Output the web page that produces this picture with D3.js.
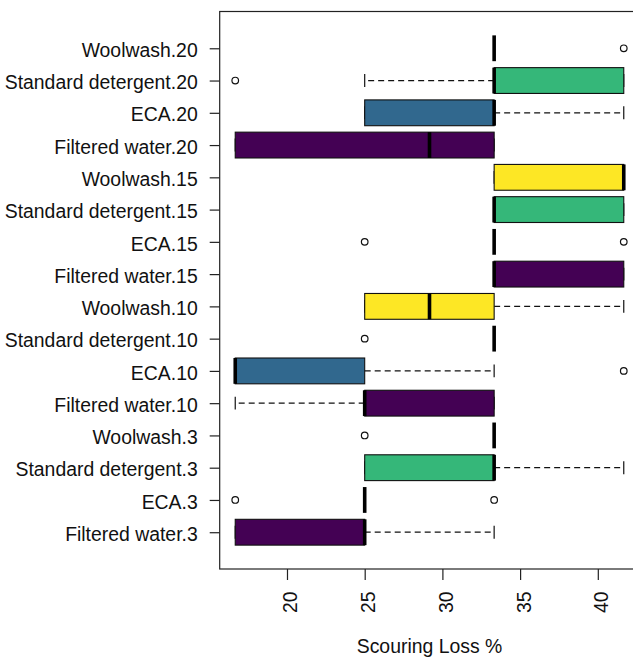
<!DOCTYPE html>
<html>
<head>
<meta charset="utf-8">
<script src="https://cdn.jsdelivr.net/npm/d3@7"></script>
<style>
  html, body { margin: 0; padding: 0; background: #fff; }
  svg { display: block; font-family: "Liberation Sans", Arial, Helvetica, sans-serif; }
</style>
</head>
<body>
<svg id="chart" width="633" height="658"></svg>
<script>
// Groups, bottom to top
const groups = [
  "Filtered water.3", "ECA.3", "Standard detergent.3", "Woolwash.3",
  "Filtered water.10", "ECA.10", "Standard detergent.10", "Woolwash.10",
  "Filtered water.15", "ECA.15", "Standard detergent.15", "Woolwash.15",
  "Filtered water.20", "ECA.20", "Standard detergent.20", "Woolwash.20"
];
const treatments = ["Filtered water", "ECA", "Standard detergent", "Woolwash"];
const treatmentColors = ["#440154", "#31688E", "#35B779", "#FDE725"];

// Five-number summaries (Scouring Loss %)
const whiskerLow  = [16.67, 25,    25,    33.33, 16.67, 16.67, 33.33, 25,    33.33, 33.33, 33.33, 33.33, 16.67, 25,    25,    33.33];
const lowerQuart  = [16.67, 25,    25,    33.33, 25,    16.67, 33.33, 25,    33.33, 33.33, 33.33, 33.33, 16.67, 25,    33.33, 33.33];
const medians     = [25,    25,    33.33, 33.33, 25,    16.67, 33.33, 29.17, 33.33, 33.33, 33.33, 41.67, 29.17, 33.33, 33.33, 33.33];
const upperQuart  = [25,    25,    33.33, 33.33, 33.33, 25,    33.33, 33.33, 41.67, 33.33, 41.67, 41.67, 33.33, 33.33, 41.67, 33.33];
const whiskerHigh = [33.33, 25,    41.67, 33.33, 33.33, 33.33, 33.33, 41.67, 41.67, 33.33, 41.67, 41.67, 33.33, 41.67, 41.67, 33.33];
const outliers    = [[], [16.67, 33.33], [], [25], [], [41.67], [25], [], [], [25, 41.67], [], [], [], [], [16.67], [41.67]];

const xTicks = [20, 25, 30, 35, 40];
const xTitle = "Scouring Loss %";

const rows = groups.map((g, i) => ({
  name: g,
  pos: i + 1,
  treatment: treatments.find(t => g.startsWith(t + ".")),
  lo: whiskerLow[i], q1: lowerQuart[i], med: medians[i], q3: upperQuart[i], hi: whiskerHigh[i],
  out: outliers[i]
}));

const svg = d3.select("#chart");

// Data range padded by 4% on each side
const allVals = rows.flatMap(r => [r.lo, r.hi, ...r.out]);
const [vmin, vmax] = d3.extent(allVals);
const pad = (vmax - vmin) * 0.04;
const x = d3.scaleLinear().domain([vmin - pad, vmax + pad]).range([219.7, 639.3]);

const n = groups.length;
const ypad = n * 0.04;
const y = d3.scaleLinear().domain([0.5 - ypad, n + 0.5 + ypad]).range([569, 11.5]);

const color = d3.scaleOrdinal().domain(treatments).range(treatmentColors);

const boxHalf = 0.4 * Math.abs(y(1) - y(0));
const stapleHalf = boxHalf * 0.5;

const g = svg.append("g");

// Whiskers (dashed, from box edge outward) and staples
rows.forEach(r => {
  const cy = y(r.pos);
  g.append("line")
    .attr("x1", x(r.q1)).attr("x2", x(r.lo))
    .attr("y1", cy).attr("y2", cy)
    .attr("stroke", "#111").attr("stroke-width", 1.2).attr("stroke-dasharray", "6,4");
  g.append("line")
    .attr("x1", x(r.q3)).attr("x2", x(r.hi))
    .attr("y1", cy).attr("y2", cy)
    .attr("stroke", "#111").attr("stroke-width", 1.2).attr("stroke-dasharray", "6,4");
  [r.lo, r.hi].forEach(v => {
    g.append("line")
      .attr("x1", x(v)).attr("x2", x(v))
      .attr("y1", cy - stapleHalf).attr("y2", cy + stapleHalf)
      .attr("stroke", "#111").attr("stroke-width", 1.2);
  });
});

// Boxes
g.selectAll("rect.box").data(rows).join("rect")
  .attr("class", "box")
  .attr("x", d => x(d.q1))
  .attr("width", d => x(d.q3) - x(d.q1))
  .attr("y", d => y(d.pos) - boxHalf)
  .attr("height", boxHalf * 2)
  .attr("fill", d => color(d.treatment))
  .attr("stroke", "#111").attr("stroke-width", 1.1);

// Medians
g.selectAll("line.median").data(rows).join("line")
  .attr("class", "median")
  .attr("x1", d => x(d.med)).attr("x2", d => x(d.med))
  .attr("y1", d => y(d.pos) - boxHalf).attr("y2", d => y(d.pos) + boxHalf)
  .attr("stroke", "#000").attr("stroke-width", 3.6);

// Outliers
g.selectAll("circle.out").data(rows.flatMap(r => r.out.map(v => ({ v, pos: r.pos })))).join("circle")
  .attr("class", "out")
  .attr("cx", d => x(d.v)).attr("cy", d => y(d.pos))
  .attr("r", 3.3)
  .attr("fill", "none").attr("stroke", "#111").attr("stroke-width", 1.2);

// Plot frame
const [xl, xr] = x.range();
const [yb, yt] = y.range();
svg.append("rect")
  .attr("x", xl).attr("y", yt).attr("width", xr - xl).attr("height", yb - yt)
  .attr("fill", "none").attr("stroke", "#222").attr("stroke-width", 1.2);

// Left axis: group names
const yAxis = d3.axisLeft(y)
  .tickValues(d3.range(1, n + 1))
  .tickFormat(d => groups[d - 1])
  .tickSize(10)
  .tickPadding(12);
const ya = svg.append("g").attr("transform", `translate(${xl},0)`).call(yAxis);
ya.select(".domain").remove();
ya.selectAll(".tick line").attr("stroke", "#222").attr("stroke-width", 1.2);
ya.selectAll(".tick text")
  .attr("font-size", 19.4).attr("fill", "#111")
  .attr("x", -22).attr("dy", "0.42em");

// Bottom axis: rotated numeric labels
const xAxis = d3.axisBottom(x).tickValues(xTicks).tickSize(11).tickPadding(12);
const xa = svg.append("g").attr("transform", `translate(0,${yb})`).call(xAxis);
xa.select(".domain").remove();
xa.selectAll(".tick line").attr("stroke", "#222").attr("stroke-width", 1.2);
xa.selectAll(".tick text")
  .attr("font-size", 19.4).attr("fill", "#111")
  .attr("text-anchor", "end")
  .attr("dy", null)
  .attr("y", null)
  .attr("transform", "translate(10,22.5) rotate(-90)");

// Axis title
svg.append("text")
  .attr("x", (xl + xr) / 2).attr("y", 653)
  .attr("text-anchor", "middle")
  .attr("font-size", 19.4).attr("fill", "#111")
  .text(xTitle);
</script>
</body>
</html>
